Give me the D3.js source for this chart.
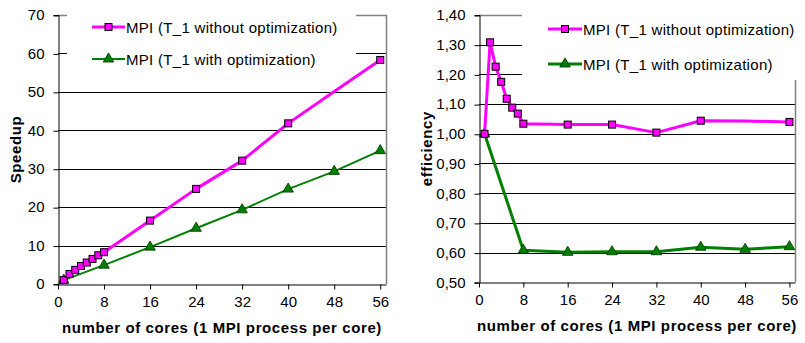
<!DOCTYPE html>
<html lang="en">
<head>
<meta charset="UTF-8">
<title>MPI speedup and efficiency</title>
<script src="https://d3js.org/d3.v7.min.js"></script>
<style>
  body { margin: 0; background: #fff; }
  svg { display: block; font-family: "Liberation Sans", Arial, sans-serif; }
</style>
</head>
<body>
<svg id="chart" width="805" height="343"></svg>
<script>
// measured runs: number of cores vs speedup / efficiency
const coresNoOpt = [1, 2, 3, 4, 5, 6, 7, 8, 16, 24, 32, 40, 48, 56];
const speedupNoOpt = [1, 2.62, 3.68, 4.7, 5.59, 6.53, 7.48, 8.27, 16.5, 24.75, 32.1, 41.8, 50.1, 58.3];
const effNoOpt = [1.0, 1.308, 1.226, 1.175, 1.118, 1.088, 1.068, 1.034, 1.031, 1.031, 1.004, 1.044, 1.043, 1.04];
const noMarkerAt = [48];

const coresOpt = [1, 8, 16, 24, 32, 40, 48, 56];
const speedupOpt = [1, 4.9, 9.6, 14.5, 19.3, 24.7, 29.3, 34.7];
const effOpt = [1.0, 0.608, 0.601, 0.603, 0.603, 0.618, 0.611, 0.62];

const seriesNames = ["MPI (T_1 without optimization)", "MPI (T_1 with optimization)"];
const xTicks = [0, 8, 16, 24, 32, 40, 48, 56];
const speedupTicks = [0, 10, 20, 30, 40, 50, 60, 70];
const effTicks = [0.5, 0.6, 0.7, 0.8, 0.9, 1.0, 1.1, 1.2, 1.3, 1.4];

const PINK = "#ff00ff", GREEN = "#008000";
const svg = d3.select("#chart");

function drawPanel(p) {
  const g = svg.append("g");
  const x = d3.scaleLinear().domain([0, 57]).range([p.left, p.right]);
  const y = d3.scaleLinear().domain(p.yDomain).range([p.bottom, p.top]);

  // horizontal gridlines
  g.selectAll(".grid").data(p.yTicks.slice(1, -1)).enter().append("line")
    .attr("x1", p.left).attr("x2", p.right)
    .attr("y1", d => Math.round(y(d)) + 0.5).attr("y2", d => Math.round(y(d)) + 0.5)
    .attr("stroke", "#000").attr("stroke-width", 1);

  // gray frame on top and right
  g.append("path")
    .attr("d", `M${p.left},${Math.round(p.top) + 0.5}H${Math.round(p.right) + 0.5}V${p.bottom}`)
    .attr("fill", "none").attr("stroke", "#808080").attr("stroke-width", 1.5);

  // y axis
  const yAxis = g.append("g")
    .attr("transform", `translate(${Math.round(p.left) + 0.5},0)`)
    .call(d3.axisLeft(y).tickValues(p.yTicks).tickSize(5).tickPadding(p.yPad).tickFormat(p.fmt));
  yAxis.select(".domain").attr("stroke", "#000");
  yAxis.selectAll(".tick line").attr("stroke", "#000").attr("transform", "translate(0,0.5)");
  yAxis.selectAll("text").attr("fill", "#000").style("font-size", "15px").attr("font-family", null);

  // x axis
  const xAxis = g.append("g")
    .attr("transform", `translate(0,${Math.round(p.bottom) + 0.5})`)
    .call(d3.axisBottom(x).tickValues(xTicks).tickSize(5).tickPadding(p.xPad).tickSizeOuter(0));
  xAxis.select(".domain").attr("stroke", "#000");
  xAxis.selectAll(".tick line").attr("stroke", "#000");
  xAxis.selectAll("text").attr("fill", "#000").style("font-size", "15px").attr("font-family", null);

  // axis titles
  g.append("text")
    .attr("x", (p.left + p.right) / 2).attr("y", p.xTitleY)
    .attr("text-anchor", "middle").attr("font-weight", "bold").attr("font-size", 15)
    .attr("letter-spacing", "0.6px")
    .text("number of cores (1 MPI process per core)");
  g.append("text")
    .attr("transform", `translate(${p.yTitleX},${(p.top + p.bottom) / 2}) rotate(-90)`)
    .attr("text-anchor", "middle").attr("font-weight", "bold").attr("font-size", 15)
    .attr("letter-spacing", "0.6px")
    .text(p.yTitle);

  const line = d3.line().x(d => x(d[0])).y(d => y(d[1]));

  // optimized series (green, triangles)
  const optPts = coresOpt.map((c, i) => [c, p.opt[i]]);
  g.append("path").datum(optPts).attr("d", line)
    .attr("fill", "none").attr("stroke", GREEN).attr("stroke-width", p.greenWidth)
    .attr("stroke-linejoin", "round");
  g.selectAll(".tri").data(optPts).enter().append("path")
    .attr("d", d3.symbol(d3.symbolTriangle, 48))
    .attr("transform", d => `translate(${x(d[0])},${y(d[1])})`)
    .attr("fill", GREEN).attr("stroke", "#003000").attr("stroke-width", 0.8);

  // non-optimized series (magenta, squares)
  const noPts = coresNoOpt.map((c, i) => [c, p.noOpt[i]]);
  g.append("path").datum(noPts).attr("d", line)
    .attr("fill", "none").attr("stroke", PINK).attr("stroke-width", 3)
    .attr("stroke-linejoin", "round");
  g.selectAll(".sq").data(noPts.filter(d => !noMarkerAt.includes(d[0]))).enter().append("rect")
    .attr("x", d => x(d[0]) - 3.5).attr("y", d => y(d[1]) - 3.5)
    .attr("width", 7).attr("height", 7)
    .attr("fill", PINK).attr("stroke", "#000").attr("stroke-width", 1);

  // legend box
  const lg = p.legend;
  g.append("rect").attr("x", lg.x).attr("y", lg.y).attr("width", lg.w).attr("height", lg.h)
    .attr("fill", "#fff");
  const items = [
    { name: seriesNames[0], color: PINK, width: 3, mark: "sq" },
    { name: seriesNames[1], color: GREEN, width: p.greenWidth, mark: "tri" }
  ];
  items.forEach((it, i) => {
    const cy = lg.rows[i];
    g.append("line").attr("x1", lg.lineX[0]).attr("x2", lg.lineX[1])
      .attr("y1", cy).attr("y2", cy).attr("stroke", it.color).attr("stroke-width", it.width);
    const mx = (lg.lineX[0] + lg.lineX[1]) / 2;
    if (it.mark === "sq") {
      g.append("rect").attr("x", mx - 3.5).attr("y", cy - 3.5).attr("width", 7).attr("height", 7)
        .attr("fill", PINK).attr("stroke", "#000");
    } else {
      g.append("path").attr("d", d3.symbol(d3.symbolTriangle, 48))
        .attr("transform", `translate(${mx},${cy})`)
        .attr("fill", GREEN).attr("stroke", "#003000").attr("stroke-width", 0.8);
    }
    g.append("text").attr("x", lg.lineX[1] + 1).attr("y", cy + 5.5)
      .attr("font-size", 15).attr("letter-spacing", "0.3px").attr("fill", "#000").text(it.name);
  });
}

drawPanel({
  left: 58, right: 386, top: 15, bottom: 284,
  yDomain: [0, 70], yTicks: speedupTicks, fmt: d3.format("d"),
  yPad: 9, xPad: 7,
  noOpt: speedupNoOpt, opt: speedupOpt, greenWidth: 2,
  xTitleY: 333, yTitle: "Speedup", yTitleX: 20.5,
  legend: { x: 67, y: 0, w: 289, h: 72, lineX: [92, 125], rows: [27, 59] }
});

drawPanel({
  left: 479, right: 795, top: 15, bottom: 282.3,
  yDomain: [0.5, 1.4], yTicks: effTicks, fmt: d => d3.format(".2f")(d).replace(".", ","),
  yPad: 9, xPad: 7,
  noOpt: effNoOpt, opt: effOpt, greenWidth: 3,
  xTitleY: 331, yTitle: "efficiency", yTitleX: 431.5,
  legend: { x: 522, y: 0, w: 283, h: 80, lineX: [548, 582], rows: [29, 64] }
});
</script>
</body>
</html>
